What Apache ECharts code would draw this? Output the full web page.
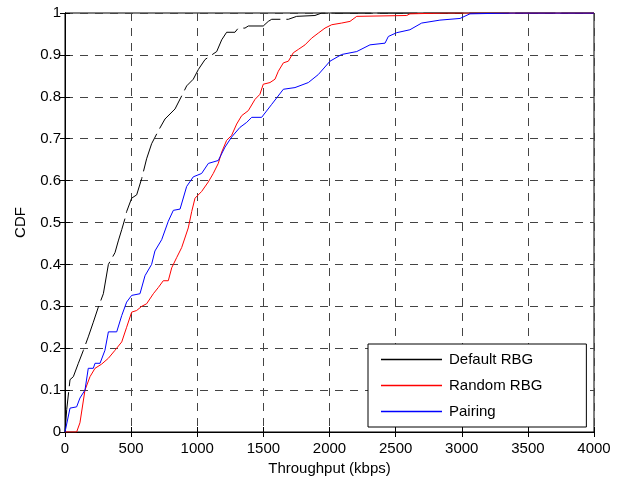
<!DOCTYPE html>
<html><head><meta charset="utf-8">
<script src="https://cdn.jsdelivr.net/npm/echarts@6/dist/echarts.min.js"></script>
<style>html,body{margin:0;padding:0;background:#fff}#c{width:623px;height:481px}</style>
</head><body><div id="c"></div>
<script>
const seriesNames = ['Default RBG', 'Random RBG', 'Pairing'];
const xTicks = [0, 500, 1000, 1500, 2000, 2500, 3000, 3500, 4000];
const yTicks = [0, 0.1, 0.2, 0.3, 0.4, 0.5, 0.6, 0.7, 0.8, 0.9, 1];

const defaultX = [0, 13, 38, 63, 101, 139, 176, 214, 252, 290, 328, 378, 403, 429, 454, 466, 504, 542, 580, 617, 655, 706, 756, 832, 882, 920, 970, 1008, 1059, 1147, 1185, 1222, 1285, 1310, 1361, 1386, 1499, 1537, 1563, 1689, 1752, 1890, 1941, 4000];
const defaultY = [0, 0.054, 0.125, 0.132, 0.164, 0.195, 0.227, 0.262, 0.298, 0.33, 0.40, 0.428, 0.456, 0.483, 0.51, 0.526, 0.558, 0.566, 0.605, 0.652, 0.688, 0.719, 0.747, 0.771, 0.802, 0.826, 0.842, 0.865, 0.889, 0.908, 0.936, 0.954, 0.954, 0.964, 0.964, 0.969, 0.969, 0.98, 0.985, 0.985, 0.992, 0.994, 1.0, 1.0];

const randomX = [0, 88, 113, 151, 189, 227, 277, 328, 378, 429, 466, 504, 542, 580, 617, 668, 706, 743, 781, 807, 844, 882, 932, 958, 983, 1033, 1084, 1121, 1159, 1185, 1222, 1260, 1298, 1336, 1386, 1437, 1474, 1499, 1550, 1588, 1613, 1651, 1689, 1726, 1764, 1815, 1865, 1915, 1966, 2017, 2092, 2155, 2206, 2584, 2608, 2886, 3000, 4000];
const randomY = [0, 0, 0.022, 0.10, 0.132, 0.152, 0.162, 0.176, 0.195, 0.215, 0.25, 0.286, 0.29, 0.30, 0.306, 0.33, 0.345, 0.361, 0.361, 0.392, 0.416, 0.44, 0.487, 0.526, 0.558, 0.574, 0.597, 0.617, 0.641, 0.668, 0.696, 0.708, 0.735, 0.755, 0.767, 0.794, 0.806, 0.83, 0.834, 0.842, 0.861, 0.881, 0.885, 0.905, 0.913, 0.924, 0.94, 0.952, 0.964, 0.972, 0.976, 0.98, 0.992, 0.994, 0.998, 1.0, 1.0, 1.0];

const pairingX = [0, 38, 88, 113, 151, 176, 214, 227, 265, 302, 328, 391, 429, 466, 504, 567, 605, 655, 680, 731, 781, 819, 870, 920, 970, 1033, 1084, 1159, 1210, 1260, 1323, 1374, 1412, 1487, 1563, 1651, 1739, 1840, 1915, 2004, 2092, 2206, 2306, 2420, 2445, 2508, 2608, 2697, 2835, 2987, 3062, 3390, 4000];
const pairingY = [0, 0.057, 0.06, 0.081, 0.10, 0.152, 0.152, 0.164, 0.164, 0.195, 0.239, 0.239, 0.278, 0.31, 0.326, 0.33, 0.373, 0.40, 0.432, 0.459, 0.503, 0.529, 0.532, 0.586, 0.609, 0.617, 0.641, 0.648, 0.68, 0.704, 0.727, 0.739, 0.751, 0.751, 0.782, 0.818, 0.822, 0.834, 0.853, 0.885, 0.901, 0.908, 0.924, 0.928, 0.944, 0.953, 0.96, 0.976, 0.983, 0.987, 0.998, 1.0, 1.0];

const zip = (xs, ys) => xs.map((x, i) => [x, ys[i]]);
const FONT = 'Liberation Sans';
const gridLine = { show: true, lineStyle: { color: '#444', width: 1, type: [8, 7] } };
const chart = echarts.init(document.getElementById('c'), null, { renderer: 'canvas' });
chart.setOption({
  animation: false,
  backgroundColor: '#fff',
  grid: { left: 65, right: 29, top: 13, bottom: 45, show: true, borderColor: '#000', borderWidth: 1 },
  xAxis: [{
    type: 'value', min: 0, max: 4000, interval: 500, position: 'bottom',
    axisLine: { show: true, lineStyle: { color: '#000' } },
    axisTick: { show: true, inside: true, length: 5, lineStyle: { color: '#000' } },
    axisLabel: { color: '#000', fontFamily: FONT, fontSize: 15, margin: 9,
      formatter: v => xTicks.includes(v) ? String(v) : '' },
    splitLine: gridLine,
    name: 'Throughput (kbps)', nameLocation: 'middle', nameGap: 29,
    nameTextStyle: { color: '#000', fontFamily: FONT, fontSize: 15 }
  }, {
    type: 'value', min: 0, max: 4000, interval: 500, position: 'top',
    axisLine: { show: true, lineStyle: { color: '#000' } },
    axisTick: { show: true, inside: true, length: 5, lineStyle: { color: '#000' } },
    axisLabel: { show: false }, splitLine: { show: false }
  }],
  yAxis: [{
    type: 'value', min: 0, max: 1, interval: 0.1, position: 'left',
    axisLine: { show: true, lineStyle: { color: '#000' } },
    axisTick: { show: true, inside: true, length: 5, lineStyle: { color: '#000' } },
    axisLabel: { color: '#000', fontFamily: FONT, fontSize: 15, margin: 4,
      formatter: v => { const t = yTicks.find(k => Math.abs(k - v) < 1e-9); return t === undefined ? '' : String(t); } },
    splitLine: gridLine,
    name: 'CDF', nameLocation: 'middle', nameGap: 37, nameRotate: 90,
    nameTextStyle: { color: '#000', fontFamily: FONT, fontSize: 15 }
  }, {
    type: 'value', min: 0, max: 1, interval: 0.1, position: 'right',
    axisLine: { show: true, lineStyle: { color: '#000' } },
    axisTick: { show: true, inside: true, length: 5, lineStyle: { color: '#000' } },
    axisLabel: { show: false }, splitLine: { show: false }
  }],
  legend: {
    orient: 'vertical', left: 368, top: 344,
    padding: [8, 44, 8, 13], itemGap: 11, itemWidth: 61, itemHeight: 1.5,
    icon: 'rect', backgroundColor: '#fff', borderColor: '#000', borderWidth: 1,
    textStyle: { color: '#000', fontFamily: FONT, fontSize: 15, padding: [0, 0, 0, 2] },
    data: seriesNames
  },
  series: [
    { name: seriesNames[0], type: 'line', data: zip(defaultX, defaultY), showSymbol: false, symbol: 'none',
      color: '#000', lineStyle: { color: '#000', width: 1, type: [40, 6] }, z: 3 },
    { name: seriesNames[1], type: 'line', data: zip(randomX, randomY), showSymbol: false, symbol: 'none',
      color: '#ff0000', lineStyle: { color: '#ff0000', width: 1 }, z: 4 },
    { name: seriesNames[2], type: 'line', data: zip(pairingX, pairingY), showSymbol: false, symbol: 'none',
      color: '#0000ff', lineStyle: { color: '#0000ff', width: 1 }, z: 5 }
  ]
});
</script></body></html>
